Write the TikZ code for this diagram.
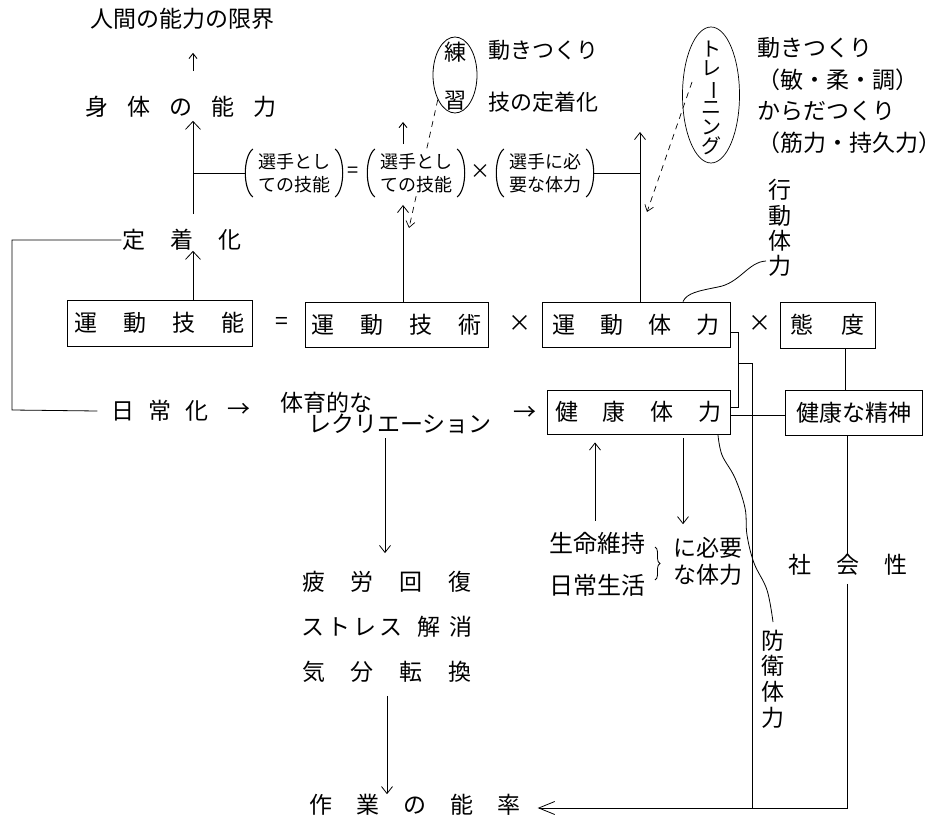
\documentclass[tikz,border=0pt]{standalone}
\usepackage{fontspec}
\usepackage{graphicx}
\setmainfont{Noto Sans CJK JP}
\usetikzlibrary{arrows.meta,shapes.geometric,calc,decorations.pathreplacing}
\newcommand\gp[1]{\hspace{#1pt}}
\begin{document}
\begin{tikzpicture}[x=1pt,y=-1pt,
  lw/.style={line width=0.8pt},
  pl/.style={line width=1.1pt},
  every node/.style={inner sep=0pt, font=\fontsize{23}{26}\selectfont},
  box/.style={draw, line width=0.9pt, minimum height=45pt},
  arr/.style={line width=0.8pt, -{Straight Barb[length=7pt,width=11pt]}},
  bigarr/.style={line width=0.8pt, -{Straight Barb[length=8pt,width=15pt]}},
  tinyarr/.style={line width=0.9pt, -{Straight Barb[length=5pt,width=8pt]}},
  longarr/.style={line width=0.8pt, -{Straight Barb[length=16pt,width=13pt]}},
  dsh/.style={line width=0.7pt, dash pattern=on 6pt off 5pt, -{Straight Barb[length=6pt,width=9pt]}},
  small/.style={align=center, font={\fontsize{18}{23}\selectfont\lineskiplimit=-20pt}},
  vert/.style={align=center},
]
\useasboundingbox (0,0) rectangle (943,821);

% ---- top left column
\node (ningen) at (182,19) {人間の能力の限界};
\node (shintai) at (181,107) {身\gp{19}体\gp{19}の\gp{19}能\gp{19}力};
\node (teichaku) at (182,240) {定\gp{25}着\gp{25}化};

% ---- practice / training
\node[draw, ellipse, lw, minimum width=44pt, minimum height=76pt] (renshuE) at (455,75) {};
\node[vert, font=\fontsize{22}{48}\selectfont] (renshu) at (455,76) {練\\習};
\node[anchor=west, font=\fontsize{22}{26}\selectfont] (ugoki1) at (488,50) {動きつくり};
\node[anchor=west, font=\fontsize{22}{26}\selectfont] (waza) at (488,102) {技の定着化};
\node[draw, ellipse, line width=0.7pt, minimum width=57pt, minimum height=136pt] (trainE) at (711,95) {};
\node[vert, font={\fontsize{20}{19.5}\selectfont\lineskiplimit=-20pt}] (training) at (711,98)
  {ト\\レ\\\rotatebox[origin=c]{-90}{ー}\\ニ\\ン\\グ};
\node[anchor=west, align=left, font={\fontsize{23}{31.7}\selectfont\lineskiplimit=-20pt}] (rblock) at (757,95.5)
  {動きつくり\\（敏・柔・調）\\からだつくり\\（筋力・持久力）};
\node[vert, font={\fontsize{23}{25.3}\selectfont\lineskiplimit=-20pt}] (kodo) at (780,228) {行\\動\\体\\力};

% ---- dashed arrows (drawn before the formula so that the text covers them)
\coordinate (rEnd) at (409,228);
\coordinate (tEnd) at (647,212);
\draw[dsh] (renshuE.235) -- (rEnd);
\draw[dsh] ([xshift=-19pt,yshift=13pt]trainE.center) -- (tEnd);

% ---- formula row: two-line terms in tall parentheses
\node[small, fill=white] (p1) at (294,173) {選手とし\\ての技能};
\node[font=\fontsize{20}{23}\selectfont] (eq2) at (353,172) {=};
\node[small, fill=white] (p2) at (416,173) {選手とし\\ての技能};
\node[font=\fontsize{20}{23}\selectfont] (x3) at (480,172) {×};
\node[small] (p3) at (545,173) {選手に必\\要な体力};
\foreach \p in {p1,p2,p3}{
  \draw[pl] ([xshift=-5pt,yshift=4pt]\p.north west) .. controls ([xshift=-15pt,yshift=-4pt]\p.north west) and ([xshift=-15pt,yshift=4pt]\p.south west) .. ([xshift=-5pt,yshift=-4pt]\p.south west);
  \draw[pl] ([xshift=5pt,yshift=4pt]\p.north east) .. controls ([xshift=15pt,yshift=-4pt]\p.north east) and ([xshift=15pt,yshift=4pt]\p.south east) .. ([xshift=5pt,yshift=-4pt]\p.south east);
}

% ---- boxes
\node[box, minimum width=185pt, minimum height=46pt] (ginou) at (159.5,323) {運\gp{26}動\gp{26}技\gp{26}能};
\node (eq1) at (282,323) {=};
\node[box, minimum width=183pt] (gijutsu) at (396.5,324.5) {運\gp{26}動\gp{26}技\gp{26}術};
\node (x1) at (520,323) {×};
\node[box, minimum width=188pt] (undotai) at (636,324.5) {運\gp{25}動\gp{25}体\gp{25}力};
\node (x2) at (760,323) {×};
\node[box, minimum width=95pt, minimum height=46pt] (taido) at (827.5,325) {態\gp{28}度};
\node[box, minimum width=183pt, minimum height=44pt] (kenkotai) at (638.5,412) {健\gp{25}康\gp{25}体\gp{25}力};
\node[box, minimum width=137pt] (seishin) at (853.5,412.5) {健康な精神};

% ---- middle row texts
\node (nichijo) at (160,411) {日\gp{14}常\gp{14}化};
\node (ar1) at (239,410) {→};
\node (taiiku) at (326.5,403) {体育的な};
\node[anchor=west] (rec) at (308,424) {レクリエーション};
\node (ar2) at (525,413) {→};

% ---- lower texts
\node[vert, font={\fontsize{23}{45}\selectfont\lineskiplimit=-20pt}] (hirou) at (387,627)
  {疲\gp{26}労\gp{26}回\gp{26}復\\ス\gp{3}ト\gp{3}レ\gp{3}ス\gp{15}解\gp{9}消\\気\gp{26}分\gp{26}転\gp{26}換};
\node (sagyo) at (415,805) {作\gp{24}業\gp{24}の\gp{24}能\gp{24}率};
\node[vert, font={\fontsize{24}{42}\selectfont\lineskiplimit=-20pt}] (seimei) at (597,564) {生命維持\\日常生活};
\draw[line width=0.8pt, decorate, decoration={brace, amplitude=5pt}] (655,547) -- (655,580);
\node[anchor=west, align=left, font={\fontsize{23}{27}\selectfont\lineskiplimit=-20pt}] (hitsuyo) at (673,561.5) {に必要\\な体力};
\node (shakai) at (848,565) {社\gp{25}会\gp{25}性};
\node[vert, font={\fontsize{23}{25.7}\selectfont\lineskiplimit=-20pt}] (bouei) at (773,679) {防\\衛\\体\\力};

% ---- coordinates
\coordinate (cA) at (193,0);
\coordinate (cB) at (403,0);
\coordinate (cBtop) at (403,122);
\coordinate (cC) at (640,0);
\coordinate (cCtop) at (640,132);

% ---- left connectors
\draw[tinyarr, shorten <=25pt, shorten >=23pt] (shintai.north -| cA) -- (ningen.south -| cA);
\draw[bigarr, shorten <=15pt, shorten >=3pt] (teichaku.north -| cA) -- (shintai.south -| cA);
\draw[lw] (cA |- p1.west) -- ([xshift=-12pt]p1.west);
\draw[bigarr] (ginou.north -| cA) -- (teichaku.south -| cA);
\draw[lw] ([xshift=-1pt]teichaku.west) -| (12,410) -- ([xshift=-14pt]nichijo.west);

% ---- formula connectors
\draw[arr, shorten >=12pt] (gijutsu.north -| cB) -- (p2.south -| cB);
\draw[tinyarr, shorten <=9pt] (p2.north -| cB) -- (cBtop);
\draw[lw] ([xshift=12pt]p3.east) -- (p3.east -| cC);
\draw[arr] (undotai.north -| cC) -- (cCtop);

% ---- wavy lines
\draw[lw] (766,261) .. controls (748,262) and (740,283) .. (718,287) .. controls (698,291) and (687,293) .. (undotai.north -| 683,0);
\draw[lw] plot[smooth, tension=0.6] coordinates {(718,435) (722,455) (735,478) (745,508) (747,535) (754,563) (767,590) (773,622)};

% ---- right connectors
\draw[lw] (undotai.east |- 0,332) -- (738,332) -- (738,407) -- (kenkotai.east |- 0,407);
\draw[lw] (738,363) -- (752,363) -- (752,808);
\draw[lw] (kenkotai.east |- 0,415) -- (seishin.west |- 0,415);
\draw[lw] (taido.south -| 845,0) -- (seishin.north -| 845,0);
\draw[lw] (seishin.south -| 847,0) -- (shakai.north -| 847,0);
\draw[longarr, shorten <=8pt, shorten >=17pt] (shakai.south -| 847,0) -- (847,808) -- (sagyo.east |- 0,808);

% ---- under health box
\draw[arr, shorten <=11pt, shorten >=8pt] (seimei.north -| 595,0) -- (kenkotai.south -| 595,0);
\draw[arr, shorten <=4pt, shorten >=13pt] (kenkotai.south -| 683,0) -- (hitsuyo.north -| 683,0);

% ---- recreation column
\draw[arr, shorten <=4pt, shorten >=18pt] (rec.south -| 385,0) -- (hirou.north -| 385,0);
\draw[arr, shorten <=13pt] (hirou.south -| 387,0) -- (sagyo.north -| 387,0);
\end{tikzpicture}
\end{document}
